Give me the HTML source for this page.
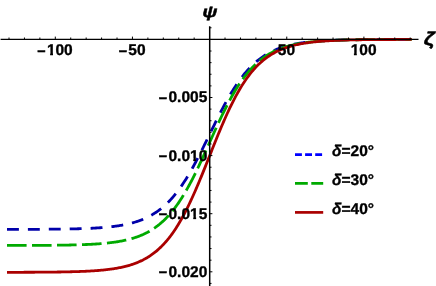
<!DOCTYPE html>
<html><head><meta charset="utf-8"><style>
html,body{margin:0;padding:0;background:#fff;}
svg{display:block;will-change:transform;opacity:0.999;}
text{text-rendering:geometricPrecision;font-family:"Liberation Sans",sans-serif;font-weight:bold;font-size:15.5px;fill:#000;stroke:#000;stroke-width:0.35px;}
text.mn{font-size:14.2px;stroke-width:0.6px;}
</style></head><body>
<svg width="436" height="286" viewBox="0 0 436 286">
<defs><clipPath id="one"><path d="M-1,-14 H10 V-2.5 H6.1 V1 H3.25 V-2.5 H-1 Z"/></clipPath></defs>
<rect width="436" height="286" fill="#fff"/>
<path d="M7.00,229.37 L8.02,229.37 L9.03,229.37 L10.04,229.37 L11.05,229.36 L12.06,229.36 L13.08,229.36 L14.09,229.36 L15.10,229.36 L16.11,229.36 L17.12,229.35 L18.13,229.35 L19.15,229.35 L20.16,229.35 L21.17,229.34 L22.18,229.34 L23.19,229.34 L24.21,229.34 L25.22,229.33 L26.23,229.33 L27.24,229.33 L28.25,229.32 L29.26,229.32 L30.28,229.32 L31.29,229.31 L32.30,229.31 L33.31,229.31 L34.32,229.30 L35.34,229.30 L36.35,229.29 L37.36,229.29 L38.37,229.28 L39.38,229.28 L40.39,229.27 L41.41,229.27 L42.42,229.26 L43.43,229.26 L44.44,229.25 L45.45,229.24 L46.47,229.24 L47.48,229.23 L48.49,229.22 L49.50,229.21 L50.51,229.20 L51.52,229.19 L52.54,229.19 L53.55,229.18 L54.56,229.17 L55.57,229.16 L56.58,229.14 L57.60,229.13 L58.61,229.12 L59.62,229.11 L60.63,229.10 L61.64,229.08 L62.65,229.07 L63.67,229.05 L64.68,229.04 L65.69,229.02 L66.70,229.01 L67.71,228.99 L68.73,228.97 L69.74,228.95 L70.75,228.93 L71.76,228.91 L72.77,228.89 L73.78,228.86 L74.80,228.84 L75.81,228.82 L76.82,228.79 L77.83,228.76 L78.84,228.73 L79.86,228.70 L80.87,228.67 L81.88,228.64 L82.89,228.61 L83.90,228.57 L84.91,228.53 L85.93,228.50 L86.94,228.46 L87.95,228.41 L88.96,228.37 L89.97,228.32 L90.99,228.28 L92.00,228.23 L93.01,228.17 L94.02,228.12 L95.03,228.06 L96.04,228.00 L97.06,227.94 L98.07,227.88 L99.08,227.81 L100.09,227.74 L101.10,227.67 L102.12,227.59 L103.13,227.51 L104.14,227.43 L105.15,227.34 L106.16,227.25 L107.17,227.15 L108.19,227.05 L109.20,226.95 L110.21,226.84 L111.22,226.73 L112.23,226.61 L113.25,226.49 L114.26,226.36 L115.27,226.23 L116.28,226.09 L117.29,225.94 L118.30,225.79 L119.32,225.63 L120.33,225.47 L121.34,225.30 L122.35,225.12 L123.36,224.93 L124.38,224.74 L125.39,224.53 L126.40,224.32 L127.41,224.10 L128.42,223.87 L129.43,223.63 L130.45,223.38 L131.46,223.12 L132.47,222.85 L133.48,222.57 L134.49,222.27 L135.51,221.97 L136.52,221.65 L137.53,221.32 L138.54,220.97 L139.55,220.61 L140.56,220.24 L141.58,219.85 L142.59,219.45 L143.60,219.03 L144.61,218.59 L145.62,218.13 L146.64,217.66 L147.65,217.17 L148.66,216.66 L149.67,216.13 L150.68,215.58 L151.69,215.01 L152.71,214.42 L153.72,213.80 L154.73,213.17 L155.74,212.51 L156.75,211.82 L157.77,211.11 L158.78,210.38 L159.79,209.61 L160.80,208.83 L161.81,208.01 L162.82,207.17 L163.84,206.29 L164.85,205.39 L165.86,204.46 L166.87,203.50 L167.88,202.50 L168.90,201.48 L169.91,200.42 L170.92,199.33 L171.93,198.21 L172.94,197.05 L173.95,195.86 L174.97,194.64 L175.98,193.38 L176.99,192.08 L178.00,190.76 L179.01,189.39 L180.03,187.99 L181.04,186.56 L182.05,185.09 L183.06,183.59 L184.07,182.05 L185.08,180.48 L186.10,178.88 L187.11,177.24 L188.12,175.57 L189.13,173.87 L190.14,172.13 L191.16,170.37 L192.17,168.58 L193.18,166.75 L194.19,164.90 L195.20,163.03 L196.21,161.13 L197.23,159.21 L198.24,157.26 L199.25,155.29 L200.26,153.31 L201.27,151.31 L202.29,149.29 L203.30,147.25 L204.31,145.21 L205.32,143.16 L206.33,141.09 L207.34,139.02 L208.36,136.95 L209.37,134.87 L210.38,132.80 L211.39,130.72 L212.40,128.65 L213.42,126.59 L214.43,124.53 L215.44,122.48 L216.45,120.44 L217.46,118.42 L218.47,116.41 L219.49,114.41 L220.50,112.44 L221.51,110.48 L222.52,108.55 L223.53,106.64 L224.55,104.75 L225.56,102.89 L226.57,101.05 L227.58,99.25 L228.59,97.47 L229.60,95.72 L230.62,94.01 L231.63,92.32 L232.64,90.67 L233.65,89.05 L234.66,87.46 L235.68,85.91 L236.69,84.39 L237.70,82.91 L238.71,81.46 L239.72,80.04 L240.74,78.66 L241.75,77.32 L242.76,76.01 L243.77,74.74 L244.78,73.50 L245.79,72.29 L246.81,71.12 L247.82,69.98 L248.83,68.87 L249.84,67.80 L250.85,66.76 L251.87,65.75 L252.88,64.78 L253.89,63.83 L254.90,62.92 L255.91,62.03 L256.92,61.17 L257.94,60.34 L258.95,59.54 L259.96,58.77 L260.97,58.02 L261.98,57.30 L263.00,56.60 L264.01,55.93 L265.02,55.28 L266.03,54.66 L267.04,54.06 L268.05,53.48 L269.07,52.92 L270.08,52.38 L271.09,51.86 L272.10,51.36 L273.11,50.88 L274.13,50.42 L275.14,49.97 L276.15,49.54 L277.16,49.13 L278.17,48.74 L279.18,48.36 L280.20,47.99 L281.21,47.64 L282.22,47.30 L283.23,46.98 L284.24,46.66 L285.26,46.37 L286.27,46.08 L287.28,45.80 L288.29,45.54 L289.30,45.28 L290.31,45.04 L291.33,44.80 L292.34,44.58 L293.35,44.36 L294.36,44.16 L295.37,43.96 L296.39,43.77 L297.40,43.58 L298.41,43.41 L299.42,43.24 L300.43,43.08 L301.44,42.93 L302.46,42.78 L303.47,42.64 L304.48,42.50 L305.49,42.37 L306.50,42.24 L307.52,42.12 L308.53,42.01 L309.54,41.90 L310.55,41.79 L311.56,41.69 L312.57,41.60 L313.59,41.50 L314.60,41.41 L315.61,41.33 L316.62,41.25 L317.63,41.17 L318.65,41.09 L319.66,41.02 L320.67,40.95 L321.68,40.89 L322.69,40.82 L323.70,40.76 L324.72,40.71 L325.73,40.65 L326.74,40.60 L327.75,40.55 L328.76,40.50 L329.78,40.45 L330.79,40.41 L331.80,40.36 L332.81,40.32 L333.82,40.28 L334.83,40.25 L335.85,40.21 L336.86,40.17 L337.87,40.14 L338.88,40.11 L339.89,40.08 L340.91,40.05 L341.92,40.02 L342.93,40.00 L343.94,39.97 L344.95,39.95 L345.96,39.92 L346.98,39.90 L347.99,39.88 L349.00,39.86 L350.01,39.84 L351.02,39.82 L352.04,39.80 L353.05,39.79 L354.06,39.77 L355.07,39.75 L356.08,39.74 L357.09,39.72 L358.11,39.71 L359.12,39.70 L360.13,39.68 L361.14,39.67 L362.15,39.66 L363.17,39.65 L364.18,39.64 L365.19,39.63 L366.20,39.62 L367.21,39.61 L368.22,39.60 L369.24,39.59 L370.25,39.58 L371.26,39.58 L372.27,39.57 L373.28,39.56 L374.30,39.55 L375.31,39.55 L376.32,39.54 L377.33,39.54 L378.34,39.53 L379.35,39.52 L380.37,39.52 L381.38,39.51 L382.39,39.51 L383.40,39.50 L384.41,39.50 L385.43,39.50 L386.44,39.49 L387.45,39.49 L388.46,39.48 L389.47,39.48 L390.48,39.48 L391.50,39.47 L392.51,39.47 L393.52,39.47 L394.53,39.46 L395.54,39.46 L396.56,39.46 L397.57,39.46 L398.58,39.45 L399.59,39.45 L400.60,39.45 L401.61,39.45 L402.63,39.45 L403.64,39.44 L404.65,39.44 L405.66,39.44 L406.67,39.44 L407.69,39.44 L408.70,39.43 L409.71,39.43 L410.72,39.43 L411.73,39.43" fill="none" stroke="#0000aa" stroke-width="2.8" stroke-dasharray="11.9 9"/>
<path d="M7.00,245.47 L8.02,245.47 L9.03,245.46 L10.04,245.46 L11.05,245.46 L12.06,245.46 L13.08,245.46 L14.09,245.46 L15.10,245.45 L16.11,245.45 L17.12,245.45 L18.13,245.45 L19.15,245.45 L20.16,245.44 L21.17,245.44 L22.18,245.44 L23.19,245.43 L24.21,245.43 L25.22,245.43 L26.23,245.43 L27.24,245.42 L28.25,245.42 L29.26,245.41 L30.28,245.41 L31.29,245.41 L32.30,245.40 L33.31,245.40 L34.32,245.39 L35.34,245.39 L36.35,245.38 L37.36,245.38 L38.37,245.37 L39.38,245.37 L40.39,245.36 L41.41,245.36 L42.42,245.35 L43.43,245.34 L44.44,245.34 L45.45,245.33 L46.47,245.32 L47.48,245.31 L48.49,245.30 L49.50,245.30 L50.51,245.29 L51.52,245.28 L52.54,245.27 L53.55,245.26 L54.56,245.25 L55.57,245.23 L56.58,245.22 L57.60,245.21 L58.61,245.20 L59.62,245.18 L60.63,245.17 L61.64,245.16 L62.65,245.14 L63.67,245.12 L64.68,245.11 L65.69,245.09 L66.70,245.07 L67.71,245.05 L68.73,245.03 L69.74,245.01 L70.75,244.99 L71.76,244.97 L72.77,244.94 L73.78,244.92 L74.80,244.89 L75.81,244.87 L76.82,244.84 L77.83,244.81 L78.84,244.78 L79.86,244.75 L80.87,244.71 L81.88,244.68 L82.89,244.64 L83.90,244.60 L84.91,244.56 L85.93,244.52 L86.94,244.48 L87.95,244.43 L88.96,244.38 L89.97,244.33 L90.99,244.28 L92.00,244.23 L93.01,244.17 L94.02,244.11 L95.03,244.05 L96.04,243.99 L97.06,243.92 L98.07,243.85 L99.08,243.78 L100.09,243.70 L101.10,243.62 L102.12,243.54 L103.13,243.45 L104.14,243.36 L105.15,243.26 L106.16,243.17 L107.17,243.06 L108.19,242.95 L109.20,242.84 L110.21,242.73 L111.22,242.60 L112.23,242.48 L113.25,242.34 L114.26,242.20 L115.27,242.06 L116.28,241.91 L117.29,241.75 L118.30,241.59 L119.32,241.41 L120.33,241.24 L121.34,241.05 L122.35,240.85 L123.36,240.65 L124.38,240.44 L125.39,240.22 L126.40,239.99 L127.41,239.75 L128.42,239.50 L129.43,239.24 L130.45,238.97 L131.46,238.69 L132.47,238.39 L133.48,238.09 L134.49,237.77 L135.51,237.44 L136.52,237.09 L137.53,236.73 L138.54,236.36 L139.55,235.97 L140.56,235.56 L141.58,235.14 L142.59,234.70 L143.60,234.25 L144.61,233.77 L145.62,233.28 L146.64,232.77 L147.65,232.24 L148.66,231.68 L149.67,231.11 L150.68,230.51 L151.69,229.89 L152.71,229.25 L153.72,228.58 L154.73,227.89 L155.74,227.18 L156.75,226.43 L157.77,225.66 L158.78,224.86 L159.79,224.04 L160.80,223.18 L161.81,222.30 L162.82,221.38 L163.84,220.44 L164.85,219.46 L165.86,218.45 L166.87,217.40 L167.88,216.32 L168.90,215.21 L169.91,214.07 L170.92,212.88 L171.93,211.66 L172.94,210.41 L173.95,209.12 L174.97,207.79 L175.98,206.42 L176.99,205.02 L178.00,203.58 L179.01,202.10 L180.03,200.59 L181.04,199.03 L182.05,197.44 L183.06,195.81 L184.07,194.14 L185.08,192.44 L186.10,190.70 L187.11,188.92 L188.12,187.11 L189.13,185.26 L190.14,183.38 L191.16,181.47 L192.17,179.52 L193.18,177.55 L194.19,175.54 L195.20,173.51 L196.21,171.44 L197.23,169.36 L198.24,167.25 L199.25,165.11 L200.26,162.96 L201.27,160.79 L202.29,158.60 L203.30,156.39 L204.31,154.18 L205.32,151.95 L206.33,149.71 L207.34,147.47 L208.36,145.22 L209.37,142.97 L210.38,140.71 L211.39,138.46 L212.40,136.22 L213.42,133.97 L214.43,131.74 L215.44,129.52 L216.45,127.31 L217.46,125.11 L218.47,122.93 L219.49,120.77 L220.50,118.63 L221.51,116.51 L222.52,114.41 L223.53,112.33 L224.55,110.29 L225.56,108.27 L226.57,106.28 L227.58,104.32 L228.59,102.39 L229.60,100.50 L230.62,98.63 L231.63,96.80 L232.64,95.01 L233.65,93.25 L234.66,91.53 L235.68,89.85 L236.69,88.20 L237.70,86.59 L238.71,85.02 L239.72,83.49 L240.74,81.99 L241.75,80.53 L242.76,79.11 L243.77,77.73 L244.78,76.38 L245.79,75.08 L246.81,73.81 L247.82,72.57 L248.83,71.37 L249.84,70.21 L250.85,69.08 L251.87,67.99 L252.88,66.93 L253.89,65.90 L254.90,64.91 L255.91,63.95 L256.92,63.02 L257.94,62.12 L258.95,61.25 L259.96,60.41 L260.97,59.60 L261.98,58.82 L263.00,58.06 L264.01,57.33 L265.02,56.63 L266.03,55.95 L267.04,55.30 L268.05,54.67 L269.07,54.06 L270.08,53.48 L271.09,52.92 L272.10,52.37 L273.11,51.85 L274.13,51.35 L275.14,50.87 L276.15,50.40 L277.16,49.96 L278.17,49.53 L279.18,49.11 L280.20,48.72 L281.21,48.34 L282.22,47.97 L283.23,47.62 L284.24,47.28 L285.26,46.96 L286.27,46.64 L287.28,46.34 L288.29,46.06 L289.30,45.78 L290.31,45.52 L291.33,45.26 L292.34,45.02 L293.35,44.78 L294.36,44.56 L295.37,44.34 L296.39,44.14 L297.40,43.94 L298.41,43.75 L299.42,43.57 L300.43,43.39 L301.44,43.22 L302.46,43.06 L303.47,42.91 L304.48,42.76 L305.49,42.62 L306.50,42.48 L307.52,42.35 L308.53,42.23 L309.54,42.11 L310.55,42.00 L311.56,41.89 L312.57,41.78 L313.59,41.68 L314.60,41.58 L315.61,41.49 L316.62,41.40 L317.63,41.32 L318.65,41.24 L319.66,41.16 L320.67,41.08 L321.68,41.01 L322.69,40.94 L323.70,40.88 L324.72,40.82 L325.73,40.76 L326.74,40.70 L327.75,40.64 L328.76,40.59 L329.78,40.54 L330.79,40.49 L331.80,40.44 L332.81,40.40 L333.82,40.36 L334.83,40.32 L335.85,40.28 L336.86,40.24 L337.87,40.20 L338.88,40.17 L339.89,40.14 L340.91,40.11 L341.92,40.08 L342.93,40.05 L343.94,40.02 L344.95,39.99 L345.96,39.97 L346.98,39.94 L347.99,39.92 L349.00,39.90 L350.01,39.88 L351.02,39.86 L352.04,39.84 L353.05,39.82 L354.06,39.80 L355.07,39.78 L356.08,39.77 L357.09,39.75 L358.11,39.74 L359.12,39.72 L360.13,39.71 L361.14,39.70 L362.15,39.68 L363.17,39.67 L364.18,39.66 L365.19,39.65 L366.20,39.64 L367.21,39.63 L368.22,39.62 L369.24,39.61 L370.25,39.60 L371.26,39.59 L372.27,39.58 L373.28,39.57 L374.30,39.57 L375.31,39.56 L376.32,39.55 L377.33,39.55 L378.34,39.54 L379.35,39.53 L380.37,39.53 L381.38,39.52 L382.39,39.52 L383.40,39.51 L384.41,39.51 L385.43,39.50 L386.44,39.50 L387.45,39.49 L388.46,39.49 L389.47,39.49 L390.48,39.48 L391.50,39.48 L392.51,39.48 L393.52,39.47 L394.53,39.47 L395.54,39.47 L396.56,39.46 L397.57,39.46 L398.58,39.46 L399.59,39.46 L400.60,39.45 L401.61,39.45 L402.63,39.45 L403.64,39.45 L404.65,39.45 L405.66,39.44 L406.67,39.44 L407.69,39.44 L408.70,39.44 L409.71,39.44 L410.72,39.43 L411.73,39.43" fill="none" stroke="#00aa00" stroke-width="2.8" stroke-dasharray="19.6 5.4"/>
<path d="M7.00,272.31 L8.02,272.31 L9.03,272.31 L10.04,272.31 L11.05,272.31 L12.06,272.30 L13.08,272.30 L14.09,272.30 L15.10,272.30 L16.11,272.30 L17.12,272.29 L18.13,272.29 L19.15,272.29 L20.16,272.29 L21.17,272.28 L22.18,272.28 L23.19,272.28 L24.21,272.27 L25.22,272.27 L26.23,272.27 L27.24,272.26 L28.25,272.26 L29.26,272.25 L30.28,272.25 L31.29,272.24 L32.30,272.24 L33.31,272.24 L34.32,272.23 L35.34,272.22 L36.35,272.22 L37.36,272.21 L38.37,272.21 L39.38,272.20 L40.39,272.19 L41.41,272.19 L42.42,272.18 L43.43,272.17 L44.44,272.16 L45.45,272.16 L46.47,272.15 L47.48,272.14 L48.49,272.13 L49.50,272.12 L50.51,272.11 L51.52,272.10 L52.54,272.09 L53.55,272.08 L54.56,272.06 L55.57,272.05 L56.58,272.04 L57.60,272.02 L58.61,272.01 L59.62,271.99 L60.63,271.98 L61.64,271.96 L62.65,271.94 L63.67,271.93 L64.68,271.91 L65.69,271.89 L66.70,271.87 L67.71,271.84 L68.73,271.82 L69.74,271.80 L70.75,271.77 L71.76,271.75 L72.77,271.72 L73.78,271.69 L74.80,271.66 L75.81,271.63 L76.82,271.60 L77.83,271.57 L78.84,271.53 L79.86,271.50 L80.87,271.46 L81.88,271.42 L82.89,271.38 L83.90,271.33 L84.91,271.29 L85.93,271.24 L86.94,271.19 L87.95,271.14 L88.96,271.09 L89.97,271.03 L90.99,270.97 L92.00,270.91 L93.01,270.85 L94.02,270.78 L95.03,270.71 L96.04,270.64 L97.06,270.56 L98.07,270.48 L99.08,270.40 L100.09,270.31 L101.10,270.22 L102.12,270.13 L103.13,270.03 L104.14,269.93 L105.15,269.82 L106.16,269.71 L107.17,269.59 L108.19,269.47 L109.20,269.35 L110.21,269.21 L111.22,269.08 L112.23,268.93 L113.25,268.78 L114.26,268.62 L115.27,268.46 L116.28,268.29 L117.29,268.11 L118.30,267.93 L119.32,267.73 L120.33,267.53 L121.34,267.32 L122.35,267.10 L123.36,266.87 L124.38,266.63 L125.39,266.38 L126.40,266.12 L127.41,265.85 L128.42,265.57 L129.43,265.28 L130.45,264.97 L131.46,264.65 L132.47,264.32 L133.48,263.97 L134.49,263.61 L135.51,263.24 L136.52,262.85 L137.53,262.44 L138.54,262.02 L139.55,261.58 L140.56,261.12 L141.58,260.64 L142.59,260.15 L143.60,259.63 L144.61,259.10 L145.62,258.54 L146.64,257.96 L147.65,257.36 L148.66,256.73 L149.67,256.08 L150.68,255.41 L151.69,254.71 L152.71,253.98 L153.72,253.23 L154.73,252.45 L155.74,251.64 L156.75,250.80 L157.77,249.93 L158.78,249.03 L159.79,248.09 L160.80,247.13 L161.81,246.13 L162.82,245.09 L163.84,244.02 L164.85,242.91 L165.86,241.77 L166.87,240.59 L167.88,239.37 L168.90,238.12 L169.91,236.82 L170.92,235.48 L171.93,234.11 L172.94,232.69 L173.95,231.23 L174.97,229.73 L175.98,228.18 L176.99,226.60 L178.00,224.97 L179.01,223.30 L180.03,221.58 L181.04,219.83 L182.05,218.03 L183.06,216.18 L184.07,214.30 L185.08,212.37 L186.10,210.41 L187.11,208.40 L188.12,206.35 L189.13,204.26 L190.14,202.14 L191.16,199.97 L192.17,197.78 L193.18,195.54 L194.19,193.28 L195.20,190.98 L196.21,188.65 L197.23,186.29 L198.24,183.90 L199.25,181.49 L200.26,179.06 L201.27,176.60 L202.29,174.13 L203.30,171.64 L204.31,169.13 L205.32,166.61 L206.33,164.08 L207.34,161.54 L208.36,159.00 L209.37,156.46 L210.38,153.91 L211.39,151.37 L212.40,148.83 L213.42,146.30 L214.43,143.77 L215.44,141.26 L216.45,138.76 L217.46,136.28 L218.47,133.81 L219.49,131.37 L220.50,128.95 L221.51,126.55 L222.52,124.18 L223.53,121.84 L224.55,119.52 L225.56,117.24 L226.57,114.99 L227.58,112.78 L228.59,110.60 L229.60,108.45 L230.62,106.35 L231.63,104.28 L232.64,102.26 L233.65,100.27 L234.66,98.33 L235.68,96.42 L236.69,94.56 L237.70,92.74 L238.71,90.96 L239.72,89.23 L240.74,87.54 L241.75,85.89 L242.76,84.29 L243.77,82.72 L244.78,81.20 L245.79,79.72 L246.81,78.29 L247.82,76.89 L248.83,75.54 L249.84,74.22 L250.85,72.95 L251.87,71.71 L252.88,70.51 L253.89,69.35 L254.90,68.23 L255.91,67.14 L256.92,66.09 L257.94,65.08 L258.95,64.10 L259.96,63.15 L260.97,62.23 L261.98,61.35 L263.00,60.49 L264.01,59.67 L265.02,58.87 L266.03,58.11 L267.04,57.37 L268.05,56.66 L269.07,55.97 L270.08,55.31 L271.09,54.68 L272.10,54.06 L273.11,53.47 L274.13,52.91 L275.14,52.36 L276.15,51.84 L277.16,51.33 L278.17,50.85 L279.18,50.38 L280.20,49.93 L281.21,49.50 L282.22,49.09 L283.23,48.69 L284.24,48.31 L285.26,47.94 L286.27,47.59 L287.28,47.25 L288.29,46.92 L289.30,46.61 L290.31,46.31 L291.33,46.03 L292.34,45.75 L293.35,45.49 L294.36,45.23 L295.37,44.99 L296.39,44.75 L297.40,44.53 L298.41,44.32 L299.42,44.11 L300.43,43.91 L301.44,43.72 L302.46,43.54 L303.47,43.37 L304.48,43.20 L305.49,43.04 L306.50,42.89 L307.52,42.74 L308.53,42.60 L309.54,42.46 L310.55,42.33 L311.56,42.21 L312.57,42.09 L313.59,41.98 L314.60,41.87 L315.61,41.76 L316.62,41.66 L317.63,41.57 L318.65,41.48 L319.66,41.39 L320.67,41.30 L321.68,41.22 L322.69,41.15 L323.70,41.07 L324.72,41.00 L325.73,40.93 L326.74,40.87 L327.75,40.80 L328.76,40.75 L329.78,40.69 L330.79,40.63 L331.80,40.58 L332.81,40.53 L333.82,40.48 L334.83,40.44 L335.85,40.39 L336.86,40.35 L337.87,40.31 L338.88,40.27 L339.89,40.23 L340.91,40.20 L341.92,40.16 L342.93,40.13 L343.94,40.10 L344.95,40.07 L345.96,40.04 L346.98,40.01 L347.99,39.99 L349.00,39.96 L350.01,39.94 L351.02,39.92 L352.04,39.89 L353.05,39.87 L354.06,39.85 L355.07,39.83 L356.08,39.81 L357.09,39.80 L358.11,39.78 L359.12,39.76 L360.13,39.75 L361.14,39.73 L362.15,39.72 L363.17,39.71 L364.18,39.69 L365.19,39.68 L366.20,39.67 L367.21,39.66 L368.22,39.65 L369.24,39.64 L370.25,39.63 L371.26,39.62 L372.27,39.61 L373.28,39.60 L374.30,39.59 L375.31,39.58 L376.32,39.57 L377.33,39.57 L378.34,39.56 L379.35,39.55 L380.37,39.55 L381.38,39.54 L382.39,39.53 L383.40,39.53 L384.41,39.52 L385.43,39.52 L386.44,39.51 L387.45,39.51 L388.46,39.50 L389.47,39.50 L390.48,39.49 L391.50,39.49 L392.51,39.49 L393.52,39.48 L394.53,39.48 L395.54,39.48 L396.56,39.47 L397.57,39.47 L398.58,39.47 L399.59,39.46 L400.60,39.46 L401.61,39.46 L402.63,39.46 L403.64,39.45 L404.65,39.45 L405.66,39.45 L406.67,39.45 L407.69,39.44 L408.70,39.44 L409.71,39.44 L410.72,39.44 L411.73,39.44" fill="none" stroke="#aa0000" stroke-width="2.8"/>
<line x1="0.6" y1="39.4" x2="418.5" y2="39.4" stroke="#000" stroke-width="1.3"/>
<line x1="209.7" y1="26.2" x2="209.7" y2="286" stroke="#000" stroke-width="1.5"/>
<line x1="9.01" y1="39.4" x2="9.01" y2="37.5" stroke="#000" stroke-width="1"/>
<line x1="24.44" y1="39.4" x2="24.44" y2="37.5" stroke="#000" stroke-width="1"/>
<line x1="39.87" y1="39.4" x2="39.87" y2="37.5" stroke="#000" stroke-width="1"/>
<line x1="55.30" y1="39.4" x2="55.30" y2="36.6" stroke="#000" stroke-width="1"/>
<line x1="70.73" y1="39.4" x2="70.73" y2="37.5" stroke="#000" stroke-width="1"/>
<line x1="86.16" y1="39.4" x2="86.16" y2="37.5" stroke="#000" stroke-width="1"/>
<line x1="101.59" y1="39.4" x2="101.59" y2="37.5" stroke="#000" stroke-width="1"/>
<line x1="117.02" y1="39.4" x2="117.02" y2="37.5" stroke="#000" stroke-width="1"/>
<line x1="132.45" y1="39.4" x2="132.45" y2="36.6" stroke="#000" stroke-width="1"/>
<line x1="147.88" y1="39.4" x2="147.88" y2="37.5" stroke="#000" stroke-width="1"/>
<line x1="163.31" y1="39.4" x2="163.31" y2="37.5" stroke="#000" stroke-width="1"/>
<line x1="178.74" y1="39.4" x2="178.74" y2="37.5" stroke="#000" stroke-width="1"/>
<line x1="194.17" y1="39.4" x2="194.17" y2="37.5" stroke="#000" stroke-width="1"/>
<line x1="225.03" y1="39.4" x2="225.03" y2="37.5" stroke="#000" stroke-width="1"/>
<line x1="240.46" y1="39.4" x2="240.46" y2="37.5" stroke="#000" stroke-width="1"/>
<line x1="255.89" y1="39.4" x2="255.89" y2="37.5" stroke="#000" stroke-width="1"/>
<line x1="271.32" y1="39.4" x2="271.32" y2="37.5" stroke="#000" stroke-width="1"/>
<line x1="286.75" y1="39.4" x2="286.75" y2="36.6" stroke="#000" stroke-width="1"/>
<line x1="302.18" y1="39.4" x2="302.18" y2="37.5" stroke="#000" stroke-width="1"/>
<line x1="317.61" y1="39.4" x2="317.61" y2="37.5" stroke="#000" stroke-width="1"/>
<line x1="333.04" y1="39.4" x2="333.04" y2="37.5" stroke="#000" stroke-width="1"/>
<line x1="348.47" y1="39.4" x2="348.47" y2="37.5" stroke="#000" stroke-width="1"/>
<line x1="363.90" y1="39.4" x2="363.90" y2="36.6" stroke="#000" stroke-width="1"/>
<line x1="379.33" y1="39.4" x2="379.33" y2="37.5" stroke="#000" stroke-width="1"/>
<line x1="394.76" y1="39.4" x2="394.76" y2="37.5" stroke="#000" stroke-width="1"/>
<line x1="410.19" y1="39.4" x2="410.19" y2="37.5" stroke="#000" stroke-width="1"/>
<line x1="209.6" y1="27.78" x2="211.5" y2="27.78" stroke="#000" stroke-width="1"/>
<line x1="209.6" y1="51.02" x2="211.5" y2="51.02" stroke="#000" stroke-width="1"/>
<line x1="209.6" y1="62.64" x2="211.5" y2="62.64" stroke="#000" stroke-width="1"/>
<line x1="209.6" y1="74.26" x2="211.5" y2="74.26" stroke="#000" stroke-width="1"/>
<line x1="209.6" y1="85.88" x2="211.5" y2="85.88" stroke="#000" stroke-width="1"/>
<line x1="209.6" y1="97.50" x2="212.4" y2="97.50" stroke="#000" stroke-width="1"/>
<line x1="209.6" y1="109.12" x2="211.5" y2="109.12" stroke="#000" stroke-width="1"/>
<line x1="209.6" y1="120.74" x2="211.5" y2="120.74" stroke="#000" stroke-width="1"/>
<line x1="209.6" y1="132.36" x2="211.5" y2="132.36" stroke="#000" stroke-width="1"/>
<line x1="209.6" y1="143.98" x2="211.5" y2="143.98" stroke="#000" stroke-width="1"/>
<line x1="209.6" y1="155.60" x2="212.4" y2="155.60" stroke="#000" stroke-width="1"/>
<line x1="209.6" y1="167.22" x2="211.5" y2="167.22" stroke="#000" stroke-width="1"/>
<line x1="209.6" y1="178.84" x2="211.5" y2="178.84" stroke="#000" stroke-width="1"/>
<line x1="209.6" y1="190.46" x2="211.5" y2="190.46" stroke="#000" stroke-width="1"/>
<line x1="209.6" y1="202.08" x2="211.5" y2="202.08" stroke="#000" stroke-width="1"/>
<line x1="209.6" y1="213.70" x2="212.4" y2="213.70" stroke="#000" stroke-width="1"/>
<line x1="209.6" y1="225.32" x2="211.5" y2="225.32" stroke="#000" stroke-width="1"/>
<line x1="209.6" y1="236.94" x2="211.5" y2="236.94" stroke="#000" stroke-width="1"/>
<line x1="209.6" y1="248.56" x2="211.5" y2="248.56" stroke="#000" stroke-width="1"/>
<line x1="209.6" y1="260.18" x2="211.5" y2="260.18" stroke="#000" stroke-width="1"/>
<line x1="209.6" y1="271.80" x2="212.4" y2="271.80" stroke="#000" stroke-width="1"/>
<line x1="209.6" y1="283.42" x2="211.5" y2="283.42" stroke="#000" stroke-width="1"/>
<text class="mn" x="45.52" y="55.90" text-anchor="end">−</text>
<g transform="translate(46.89,55.30)" clip-path="url(#one)"><text x="0" y="0">1</text></g><text x="55.51" y="55.30">00</text>
<text class="mn" x="126.98" y="55.90" text-anchor="end">−</text>
<text x="128.35" y="55.30">50</text>
<text x="277.83" y="55.30">50</text>
<g transform="translate(350.67,55.30)" clip-path="url(#one)"><text x="0" y="0">1</text></g><text x="359.29" y="55.30">00</text>
<text class="mn" x="167.10" y="103.05" text-anchor="end">−</text>
<text x="168.47" y="102.45">0.005</text>
<text class="mn" x="167.10" y="161.15" text-anchor="end">−</text>
<text x="168.47" y="160.55">0.0</text><g transform="translate(190.01,160.55)" clip-path="url(#one)"><text x="0" y="0">1</text></g><text x="198.63" y="160.55">0</text>
<text class="mn" x="167.10" y="219.25" text-anchor="end">−</text>
<text x="168.47" y="218.65">0.0</text><g transform="translate(190.01,218.65)" clip-path="url(#one)"><text x="0" y="0">1</text></g><text x="198.63" y="218.65">5</text>
<text class="mn" x="167.10" y="277.35" text-anchor="end">−</text>
<text x="168.47" y="276.75">0.020</text>
<text transform="translate(210.0,17.4) scale(1.2,0.97)" x="0" y="0" text-anchor="middle" font-style="italic" style="font-size:16px;stroke-width:0.5px">ψ</text>
<text transform="translate(423.8,45.4) scale(1.2,1)" x="0" y="0" font-style="italic" style="font-size:18.5px;stroke-width:0.5px">ζ</text>
<line x1="295" y1="154.65" x2="323.2" y2="154.65" stroke="#0000ff" stroke-width="2.7" stroke-dasharray="6.9 3.2"/>
<line x1="295" y1="183.3" x2="323.2" y2="183.3" stroke="#00aa00" stroke-width="2.7" stroke-dasharray="12.8 3.5"/>
<line x1="295" y1="212.4" x2="323.2" y2="212.4" stroke="#aa0000" stroke-width="2.7"/>
<text x="332" y="156.45"><tspan font-style="italic">δ</tspan>=20<tspan dy="-0.7">°</tspan></text>
<text x="332" y="185.35"><tspan font-style="italic">δ</tspan>=30<tspan dy="-0.7">°</tspan></text>
<text x="332" y="214.35"><tspan font-style="italic">δ</tspan>=40<tspan dy="-0.7">°</tspan></text>
</svg>
</body></html>
